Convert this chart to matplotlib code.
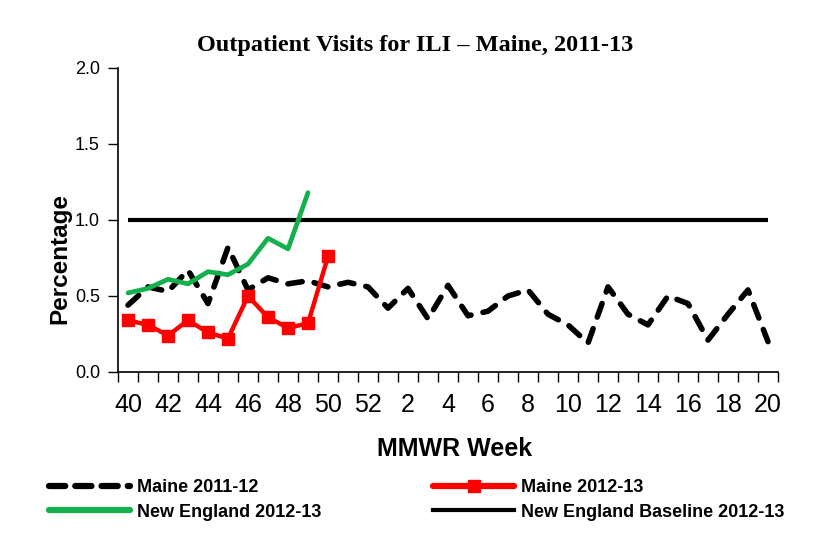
import matplotlib
matplotlib.use("Agg")
import matplotlib.pyplot as plt
from matplotlib.lines import Line2D

weeks = [40, 41, 42, 43, 44, 45, 46, 47, 48, 49, 50, 51, 52,
         1, 2, 3, 4, 5, 6, 7, 8, 9, 10, 11, 12, 13, 14, 15, 16, 17, 18, 19, 20]
maine_2011_12 = [0.44, 0.56, 0.53, 0.67, 0.45, 0.82, 0.54, 0.62, 0.58, 0.60, 0.56,
                 0.59, 0.56, 0.42, 0.55, 0.35, 0.57, 0.37, 0.40, 0.50, 0.54, 0.38,
                 0.31, 0.19, 0.56, 0.38, 0.31, 0.50, 0.45, 0.21, 0.38, 0.54, 0.20]
maine_2012_13 = [0.34, 0.31, 0.24, 0.34, 0.26, 0.22, 0.50, 0.36, 0.29, 0.32, 0.76]
new_england_2012_13 = [0.52, 0.55, 0.61, 0.58, 0.66, 0.64, 0.71, 0.88, 0.81, 1.18]
baseline_2012_13 = 1.0
yticks = [0.0, 0.5, 1.0, 1.5, 2.0]

title = "Outpatient Visits for ILI \u2013 Maine, 2011-13"

GREEN = "#14b04e"
RED = "#ff0000"

fig = plt.figure(figsize=(8.31, 5.51), dpi=100)
ax = fig.add_axes([118/831, 1 - 372/551, 660/831, (372 - 68)/551])

x_all = list(range(len(weeks)))

ax.plot(x_all, maine_2011_12, color="black", lw=4.0, linestyle=(0, (2.6, 2.2)),
        dash_capstyle="round", solid_capstyle="round", zorder=3)
ax.plot(x_all[:len(maine_2012_13)], maine_2012_13, color=RED, lw=3.2,
        marker="s", markersize=8, zorder=4)
ax.plot(x_all[:len(new_england_2012_13)], new_england_2012_13, color=GREEN,
        lw=3.4, solid_capstyle="round", zorder=5)
ax.plot([x_all[0], x_all[-1]], [baseline_2012_13, baseline_2012_13], color="black",
        lw=3.0, solid_capstyle="butt", zorder=2)

ax.set_xlim(-0.5, len(weeks) - 0.5)
ax.set_ylim(0, 2.0)
ax.set_yticks(yticks)
ax.set_yticklabels([f"{v:.1f}" for v in yticks], fontsize=13, family="Liberation Sans")

ax.set_xticks([i - 0.5 for i in range(len(weeks) + 1)], minor=True)
ax.set_xticks(x_all[::2])
ax.set_xticklabels([str(w) for w in weeks[::2]], fontsize=18, family="Liberation Sans")
ax.tick_params(axis="x", which="major", length=0, pad=15)
ax.tick_params(axis="x", which="minor", length=7, width=1, direction="out")
ax.tick_params(axis="y", length=7, width=1, direction="out", pad=6)

for s in ["top", "right"]:
    ax.spines[s].set_visible(False)
for s in ["left", "bottom"]:
    ax.spines[s].set_linewidth(1.2)

ax.set_ylabel("Percentage", fontsize=17.5, fontweight="bold", family="Liberation Sans")
ax.yaxis.set_label_coords((60 - 118) / 660, (372 - 258) / 304)
ax.set_xlabel("MMWR Week", fontsize=18, fontweight="bold", family="Liberation Sans")
ax.xaxis.set_label_coords((455 - 118) / 660, -(449 - 372) / 304)
ax.xaxis.label.set_va("center")
ax.yaxis.label.set_va("center")
fig.text(415/831, 1 - 45/551, title, ha="center", va="center", fontsize=17.5,
         fontweight="bold", family="Liberation Serif")

h1 = Line2D([], [], color="black", lw=4.5, linestyle=(0, (2.6, 1.6)), dash_capstyle="round")
h2 = Line2D([], [], color=RED, lw=4.5, marker="s", markersize=8, solid_capstyle="round")
h3 = Line2D([], [], color=GREEN, lw=4.5, solid_capstyle="round")
h4 = Line2D([], [], color="black", lw=3.0)

leg_kw = dict(frameon=False, handlelength=4.5, handletextpad=0.4, labelspacing=0.42,
              prop={"family": "Liberation Sans", "weight": "bold", "size": 13},
              numpoints=1, borderpad=0, borderaxespad=0)
leg1 = fig.legend([h1, h3], ["Maine 2011-12", "New England 2012-13"], loc="upper left",
                  bbox_to_anchor=(49/831, 1 - 479/551), **leg_kw)
leg2 = fig.legend([h2, h4], ["Maine 2012-13", "New England Baseline 2012-13"], loc="upper left",
                  bbox_to_anchor=(433/831, 1 - 479/551), **leg_kw)

fig.savefig("out.png", dpi=100, facecolor="white")
